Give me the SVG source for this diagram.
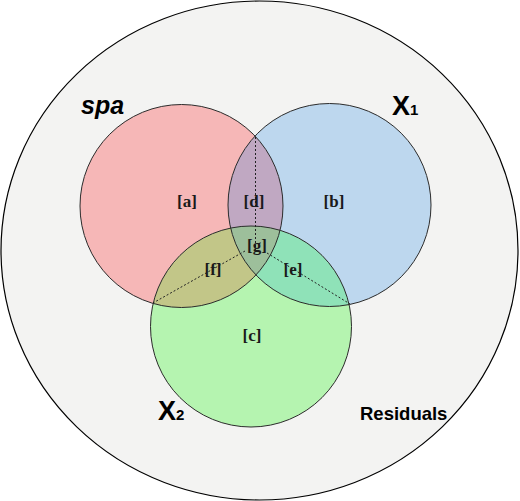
<svg xmlns="http://www.w3.org/2000/svg" width="520" height="501" viewBox="0 0 520 501">
<style>
.ring{fill:none;stroke:#2b2b2b;stroke-width:1}
.lbl{font-family:"Liberation Serif","Times New Roman",serif;font-weight:bold;font-size:17px;fill:#1a1a1a;text-anchor:middle}
.set{font-family:"Liberation Sans",Arial,sans-serif;font-weight:bold;fill:#000}
.dot{stroke:#222;stroke-width:1;stroke-dasharray:2,2;fill:none}
</style>
<defs>
<clipPath id="cR"><circle cx="181.5" cy="206" r="101.5"/></clipPath>
<clipPath id="cB"><circle cx="329.5" cy="205" r="101.5"/></clipPath>
<clipPath id="cG"><circle cx="251" cy="326.5" r="100.5"/></clipPath>
</defs>
<g id="residuals">
<ellipse cx="259.5" cy="250.5" rx="258.5" ry="249.5" fill="#f3f3f2" stroke="#000" stroke-width="1.2"/>
<text class="set" x="360" y="420" font-size="18.5">Residuals</text>
</g>
<g id="fills">
<circle cx="181.5" cy="206" r="101.5" fill="#f6b7b7"/>
<circle cx="329.5" cy="205" r="101.5" fill="#bdd7ee"/>
<circle cx="251" cy="326.5" r="100.5" fill="#b5f4b0"/>
<g clip-path="url(#cR)"><circle cx="329.5" cy="205" r="101.5" fill="#c0a8c2"/></g>
<g clip-path="url(#cR)"><circle cx="251" cy="326.5" r="100.5" fill="#c2c688"/></g>
<g clip-path="url(#cB)"><circle cx="251" cy="326.5" r="100.5" fill="#8fe2b8"/></g>
<g clip-path="url(#cR)"><g clip-path="url(#cB)"><circle cx="251" cy="326.5" r="100.5" fill="#9dbf9b"/></g></g>
</g>
<g id="spa">
<circle class="ring" cx="181.5" cy="206" r="101.5"/>
<text class="set" x="81" y="114" font-size="25" font-style="italic">spa</text>
</g>
<g id="X1">
<circle class="ring" cx="329.5" cy="205" r="101.5"/>
<text class="set" x="392" y="115" font-size="27">X<tspan font-size="15">1</tspan></text>
</g>
<g id="X2">
<circle class="ring" cx="251" cy="326.5" r="100.5"/>
<text class="set" x="158" y="420" font-size="27">X<tspan font-size="15">2</tspan></text>
</g>
<g id="connectors">
<line class="dot" x1="255.5" y1="137" x2="255.5" y2="250"/>
<line class="dot" x1="245" y1="251" x2="153" y2="303"/>
<line class="dot" x1="267" y1="253" x2="350" y2="304"/>
</g>
<g id="labels">
<text class="lbl" x="187" y="207">[a]</text>
<text class="lbl" x="254" y="207">[d]</text>
<text class="lbl" x="334" y="207">[b]</text>
<text class="lbl" x="257" y="251">[g]</text>
<text class="lbl" x="213" y="275">[f]</text>
<text class="lbl" x="293" y="275">[e]</text>
<text class="lbl" x="252" y="341">[c]</text>
</g>
</svg>
